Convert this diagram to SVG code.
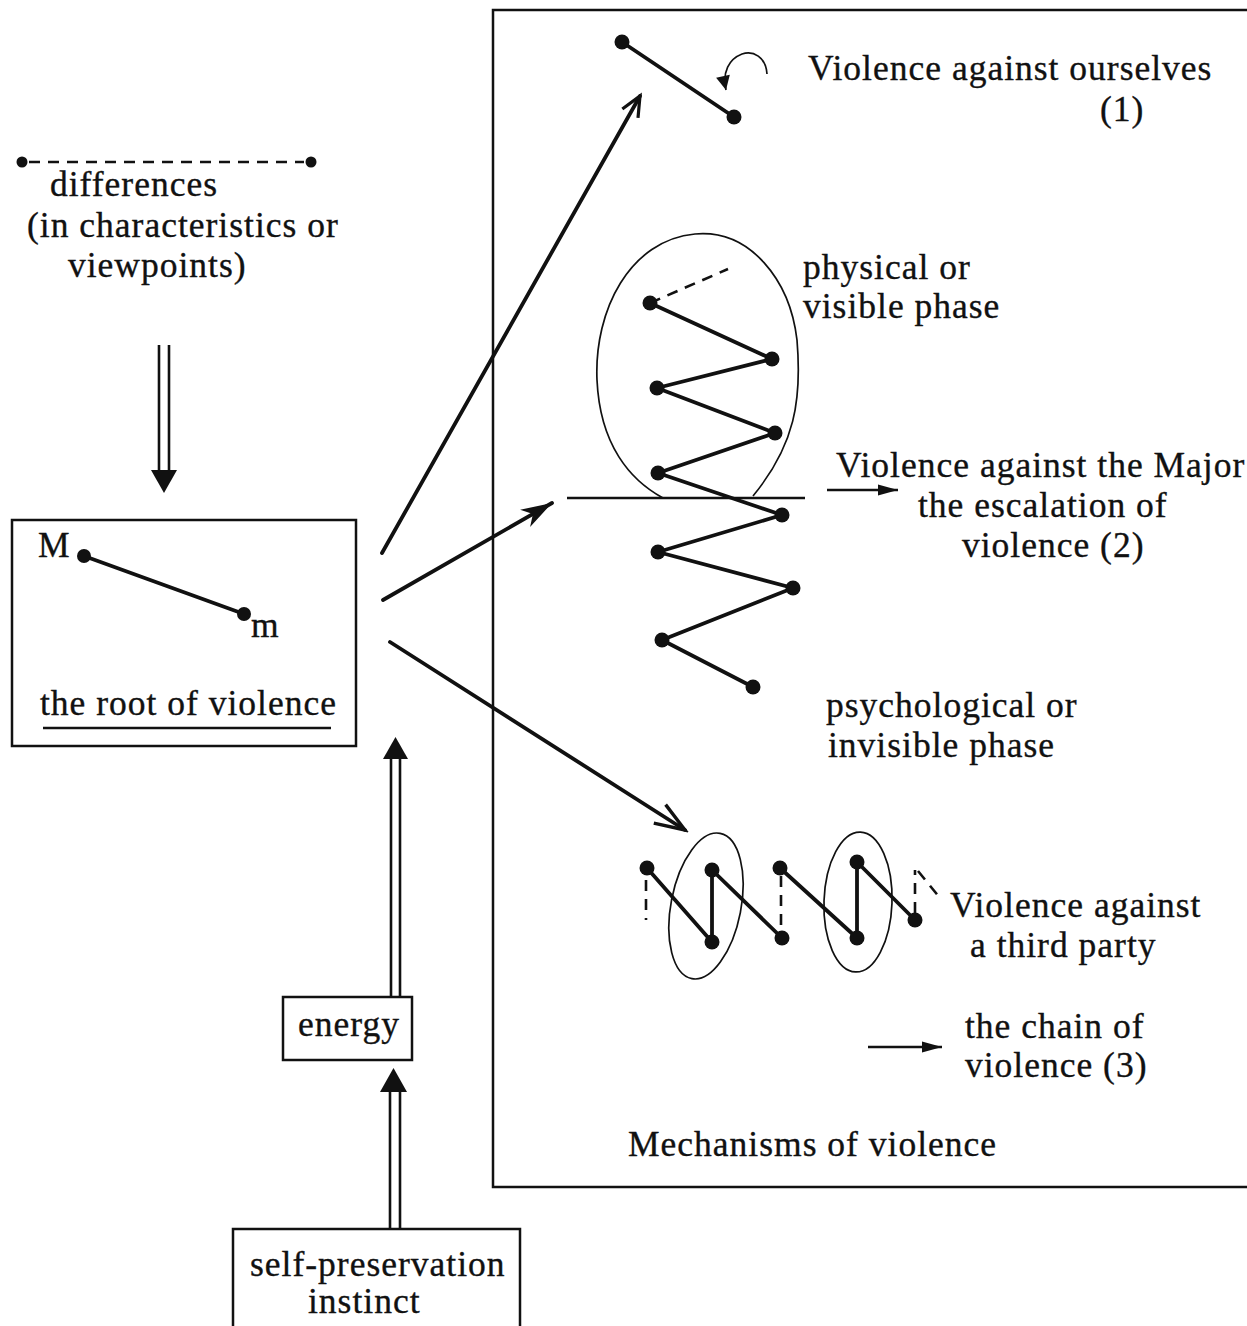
<svg xmlns="http://www.w3.org/2000/svg" width="1247" height="1326" viewBox="0 0 1247 1326">
<style>
text{font-family:"Liberation Serif","Times New Roman",serif;font-size:35.5px;letter-spacing:1px;fill:#111;stroke:#111;stroke-width:0.35}
.box{fill:none;stroke:#111;stroke-width:2.5}
.ln{fill:none;stroke:#111;stroke-width:3.8;stroke-linecap:round;stroke-linejoin:round}
.thin{fill:none;stroke:#111;stroke-width:1.7}
.dash{fill:none;stroke:#111;stroke-width:2.6;stroke-dasharray:11 8}
.dbl{fill:none;stroke:#111;stroke-width:2.6}
.dot{fill:#111}
.head{fill:#111}
</style>
<defs>
<marker id="openA" markerUnits="userSpaceOnUse" viewBox="-34 -14 38 28" refX="0" refY="0" markerWidth="38" markerHeight="28" orient="auto">
<path d="M-30,-11 L0,0 L-30,11" fill="none" stroke="#111" stroke-width="3.4"/>
</marker>
<marker id="openS" markerUnits="userSpaceOnUse" viewBox="-24 -12 28 24" refX="0" refY="0" markerWidth="28" markerHeight="24" orient="auto">
<path d="M-20,-9 L0,0 L-20,9" fill="none" stroke="#111" stroke-width="3.2"/>
</marker>
<marker id="fillA" markerUnits="userSpaceOnUse" viewBox="-34 -12 36 24" refX="0" refY="0" markerWidth="36" markerHeight="24" orient="auto">
<path d="M0,0 L-31,-10 L-22,0 L-31,10 Z" fill="#111"/>
</marker>
<marker id="smallA" markerUnits="userSpaceOnUse" viewBox="-22 -8 24 16" refX="0" refY="0" markerWidth="24" markerHeight="16" orient="auto">
<path d="M0,0 L-20,-5.5 L-20,5.5 Z" fill="#111"/>
</marker>
<marker id="curlA" markerUnits="userSpaceOnUse" viewBox="-16 -9 18 18" refX="0" refY="0" markerWidth="18" markerHeight="18" orient="auto">
<path d="M0,0 L-14,-7 L-14,7 Z" fill="#111"/>
</marker>
</defs>

<g id="mechanisms-frame">
<rect class="box" x="493" y="10" width="800" height="1177" stroke-width="2.8"/>
<text x="628" y="1156">Mechanisms of violence</text>
</g>

<g id="differences">
<path class="dash" d="M29,162 H304"/>
<circle class="dot" cx="22" cy="162" r="5.5"/>
<circle class="dot" cx="311" cy="162" r="5.5"/>
<text x="50" y="196">differences</text>
<text x="27" y="237">(in characteristics or</text>
<text x="68" y="277">viewpoints)</text>
</g>

<g id="root">
<rect class="box" x="12" y="520" width="344" height="226"/>
<text x="38" y="557">M</text>
<line class="ln" x1="84" y1="556" x2="244" y2="614" stroke-width="3.4"/>
<circle class="dot" cx="84" cy="556" r="7"/>
<circle class="dot" cx="244" cy="614" r="7"/>
<text x="251" y="637">m</text>
<text x="40" y="715">the root of violence</text>
<line x1="43" y1="728" x2="331" y2="728" stroke="#111" stroke-width="2.4"/>
</g>

<g id="energy">
<rect class="box" x="283" y="997" width="129" height="63"/>
<text x="298" y="1036">energy</text>
</g>

<g id="self-preservation">
<rect class="box" x="233" y="1229" width="287" height="130"/>
<text x="250" y="1276">self-preservation</text>
<text x="308" y="1313">instinct</text>
</g>

<g id="violence-ourselves">
<line class="ln" x1="622" y1="42" x2="734" y2="117"/>
<circle class="dot" cx="622" cy="42" r="7.5"/>
<circle class="dot" cx="734" cy="117" r="7.5"/>
<path class="thin" d="M767,74 C766,57 753,50 742,54 C729,59 722,72 726,90" stroke-width="2.8" marker-end="url(#curlA)"/>
<text x="808" y="80">Violence against ourselves</text>
<text x="1100" y="121">(1)</text>
</g>

<g id="escalation">
<path class="thin" d="M663,498 C630,480 600,445 597,380 C594,310 630,240 695,234 C750,229 790,280 797,340 C802,400 795,445 753,496"/>
<line x1="567" y1="498" x2="805" y2="498" stroke="#111" stroke-width="2.4"/>
<path class="dash" d="M650,303 L728,269" stroke-width="3.4" stroke-dasharray="14 9"/>
<polyline class="ln" points="650,303 772,359 657,388 775,433 658,473 782,515 658,552 793,588 662,640 753,687"/>
<g class="dot">
<circle cx="650" cy="303" r="7.5"/><circle cx="772" cy="359" r="7.5"/><circle cx="657" cy="388" r="7.5"/>
<circle cx="775" cy="433" r="7.5"/><circle cx="658" cy="473" r="7.5"/><circle cx="782" cy="515" r="7.5"/>
<circle cx="658" cy="552" r="7.5"/><circle cx="793" cy="588" r="7.5"/><circle cx="662" cy="640" r="7.5"/>
<circle cx="753" cy="687" r="7.5"/>
</g>
<text x="803" y="279">physical or</text>
<text x="803" y="318">visible phase</text>
<text x="836" y="477">Violence against the Major</text>
<line x1="827" y1="490" x2="898" y2="490" stroke="#111" stroke-width="2.4" marker-end="url(#smallA)"/>
<text x="918" y="517">the escalation of</text>
<text x="962" y="557">violence (2)</text>
<text x="826" y="717">psychological or</text>
<text x="828" y="757">invisible phase</text>
</g>

<g id="chain">
<ellipse class="thin" cx="706" cy="906" rx="35" ry="74" transform="rotate(11 706 906)"/>
<ellipse class="thin" cx="858" cy="902" rx="34" ry="70" transform="rotate(2 858 902)"/>
<path class="dash" d="M646,880 V920" stroke-width="3.2"/>
<path class="dash" d="M781,876 V932" stroke-width="3.2"/>
<path class="dash" d="M915,913 V870 M918,871 L940,898" stroke-width="3.2" stroke-dasharray="9 7"/>
<path class="ln" d="M647,868 L712,942 L712,870 L782,938 M780,868 L857,938 L857,862 L915,920"/>
<g class="dot">
<circle cx="647" cy="868" r="7.5"/><circle cx="712" cy="870" r="7.5"/><circle cx="712" cy="942" r="7.5"/>
<circle cx="780" cy="868" r="7.5"/><circle cx="782" cy="938" r="7.5"/><circle cx="857" cy="862" r="7.5"/>
<circle cx="857" cy="938" r="7.5"/><circle cx="915" cy="920" r="7.5"/>
</g>
<text x="950" y="917">Violence against</text>
<text x="970" y="957">a third party</text>
<line x1="868" y1="1047" x2="942" y2="1047" stroke="#111" stroke-width="2.6" marker-end="url(#smallA)"/>
<text x="965" y="1038">the chain of</text>
<text x="965" y="1077">violence (3)</text>
</g>

<g id="connectors">
<line class="ln" x1="382" y1="553" x2="640" y2="96" stroke-width="3.4" marker-end="url(#openS)"/>
<line class="ln" x1="383" y1="600" x2="552" y2="503" stroke-width="3.8" marker-end="url(#fillA)"/>
<line class="ln" x1="390" y1="642" x2="685" y2="830" stroke-width="3.4" marker-end="url(#openA)"/>
<path class="dbl" d="M159,345 V472 M169,345 V472"/>
<polygon class="head" points="151,470 177,470 164,493"/>
<path class="dbl" d="M391,757 V997 M400,757 V997"/>
<polygon class="head" points="383,759 408,759 395.5,737"/>
<path class="dbl" d="M390,1090 V1229 M400,1090 V1229"/>
<polygon class="head" points="380,1092 407,1092 393.5,1068"/>
</g>
</svg>
